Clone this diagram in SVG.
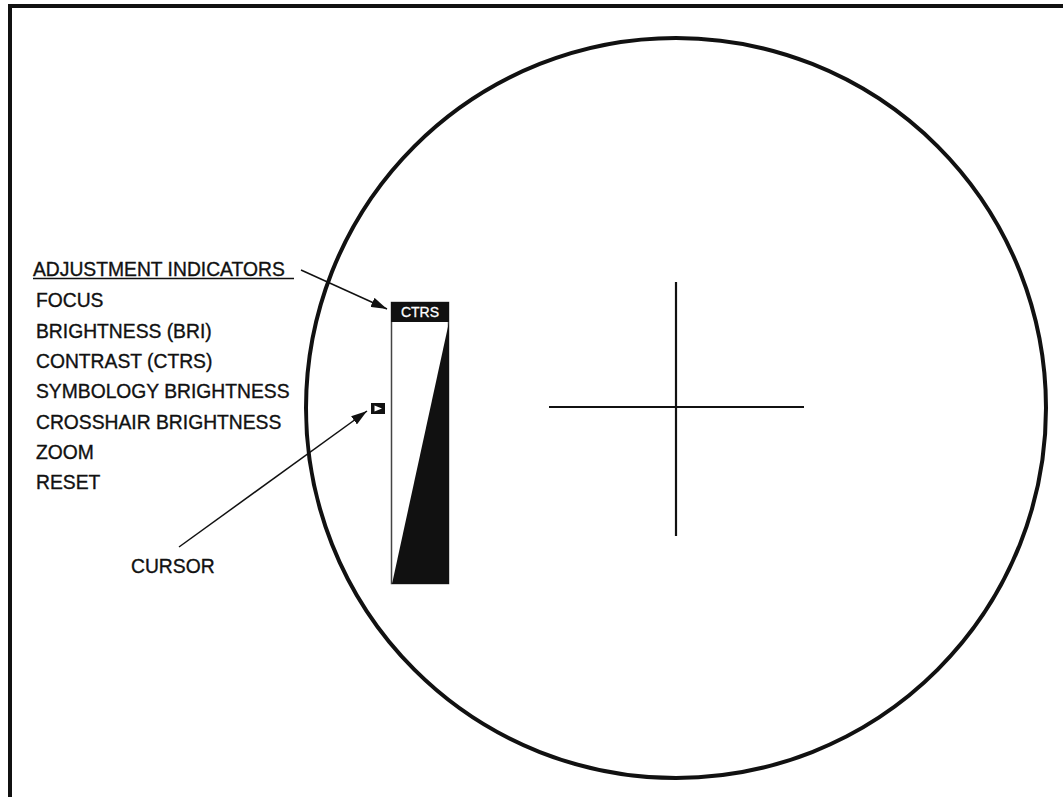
<svg xmlns="http://www.w3.org/2000/svg" width="1063" height="797" viewBox="0 0 1063 797">
<style>
.t{font-family:"Liberation Sans",Arial,sans-serif;font-size:19.3px;fill:#111;stroke:#111;stroke-width:0.35px}
.ln{stroke:#111;fill:none}
</style>
<defs>
<marker id="ah" viewBox="0 0 16 10" refX="16" refY="5" markerWidth="16" markerHeight="10" markerUnits="userSpaceOnUse" orient="auto">
<path d="M0,0 L16,5 L0,10 Z" fill="#111"/>
</marker>
</defs>
<rect width="1063" height="797" fill="#fff"/>
<g id="frame">
<path d="M10,797 V6 H1063" class="ln" stroke-width="4"/>
</g>
<g id="eyepiece">
<circle cx="676" cy="408" r="370" class="ln" stroke-width="4"/>
</g>
<g id="crosshair">
<line x1="676" y1="282" x2="676" y2="536" class="ln" stroke-width="2.2"/>
<line x1="549" y1="407" x2="804" y2="407" class="ln" stroke-width="2.2"/>
</g>
<g id="indicator">
<rect x="391.5" y="302.5" width="57" height="281" fill="#fff" stroke="#444" stroke-width="1.5"/>
<path d="M449,322 L449,584 L392,584 Z" fill="#111"/>
<rect x="391" y="302" width="58" height="20" fill="#111"/>
<text x="420" y="317" text-anchor="middle" style="font-family:'Liberation Sans',Arial,sans-serif;font-size:14px;fill:#fff;stroke:#fff;stroke-width:0.3px">CTRS</text>
</g>
<g id="cursor">
<rect x="371" y="403" width="14" height="11" fill="#111"/>
<path d="M374.5,405.5 L382,408.5 L374.5,411.5 Z" fill="#fff"/>
</g>
<g id="labels">
<text x="33" y="276" class="t">ADJUSTMENT INDICATORS</text>
<line x1="33" y1="278.5" x2="294" y2="278.5" class="ln" stroke-width="1.5"/>
<text x="36" y="307" class="t">FOCUS</text>
<text x="36" y="337.5" class="t">BRIGHTNESS (BRI)</text>
<text x="36" y="368" class="t">CONTRAST (CTRS)</text>
<text x="36" y="398" class="t">SYMBOLOGY BRIGHTNESS</text>
<text x="36" y="428.5" class="t">CROSSHAIR BRIGHTNESS</text>
<text x="36" y="459" class="t">ZOOM</text>
<text x="36" y="489" class="t">RESET</text>
<text x="131" y="573" class="t">CURSOR</text>
</g>
<g id="connectors">
<line x1="301" y1="270" x2="387" y2="309" class="ln" stroke-width="1.5" marker-end="url(#ah)"/>
<line x1="179" y1="547" x2="367" y2="411" class="ln" stroke-width="1.5" marker-end="url(#ah)"/>
</g>
</svg>
